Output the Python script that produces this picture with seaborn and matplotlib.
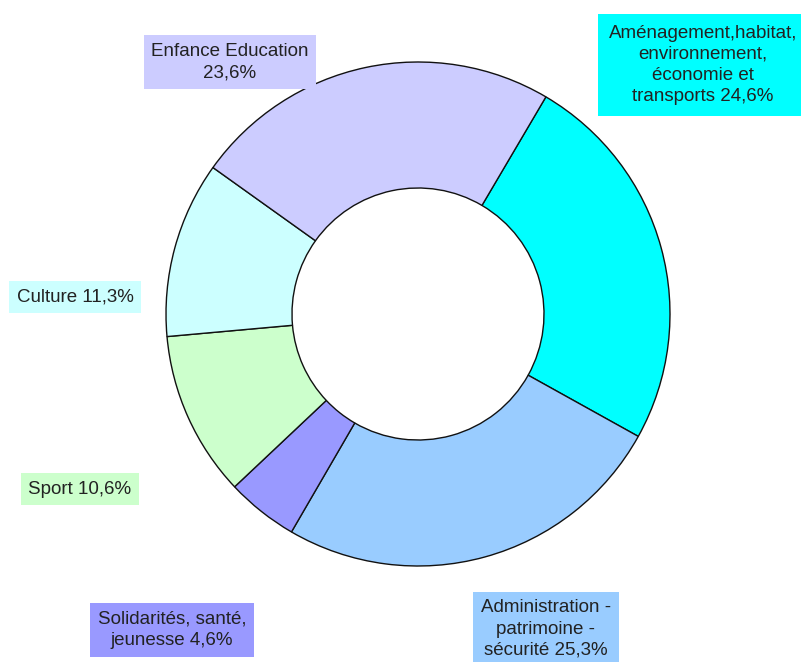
import matplotlib
matplotlib.use('Agg')
import matplotlib.pyplot as plt
import seaborn as sns

# ── Data ──────────────────────────────────────────────────────────────────────
categories = [
    'Aménagement,habitat,\nenvironnement,\néconomie et\ntransports',
    'Administration -\npatrimoine -\nsécurité',
    'Solidarités, santé,\njeunesse',
    'Sport',
    'Culture',
    'Enfance Education\n',
]
shares = [24.6, 25.3, 4.6, 10.6, 11.3, 23.6]
colors = ['#00FFFF', '#99CCFF', '#9999FF', '#CCFFCC', '#CCFFFF', '#CCCCFF']

# label box centres in pixel coords (y from top)
label_pos = [(703, 65), (546, 629), (172, 630), (80, 489), (75, 297), (230, 62)]

W, H = 801, 662

sns.set_theme(style='white')
plt.rcParams['font.family'] = ['Liberation Sans', 'DejaVu Sans']

fig = plt.figure(figsize=(W / 100, H / 100), dpi=100)
ax = fig.add_axes([0, 0, 1, 1])

ax.pie(shares, colors=colors, startangle=59.5, counterclock=False,
       center=(418, H - 314), radius=252,
       wedgeprops=dict(width=126, edgecolor='#111111', linewidth=1.0))

for cat, val, (x, y), c in zip(categories, shares, label_pos, colors):
    txt = f'{cat} {val:.1f}%'.replace('.', ',').replace('\n ', '\n')
    pad = 0.6 if txt.count('\n') > 2 else 0.4
    ax.text(x, H - y, txt, ha='center', va='center', multialignment='center',
            fontsize=13.5, color='#222222', linespacing=1.32,
            bbox=dict(boxstyle=f'square,pad={pad}', facecolor=c, edgecolor='none'))

ax.set_xlim(0, W)
ax.set_ylim(0, H)
ax.set_aspect('equal')
ax.axis('off')

fig.savefig('out.png', dpi=100, facecolor='white')
